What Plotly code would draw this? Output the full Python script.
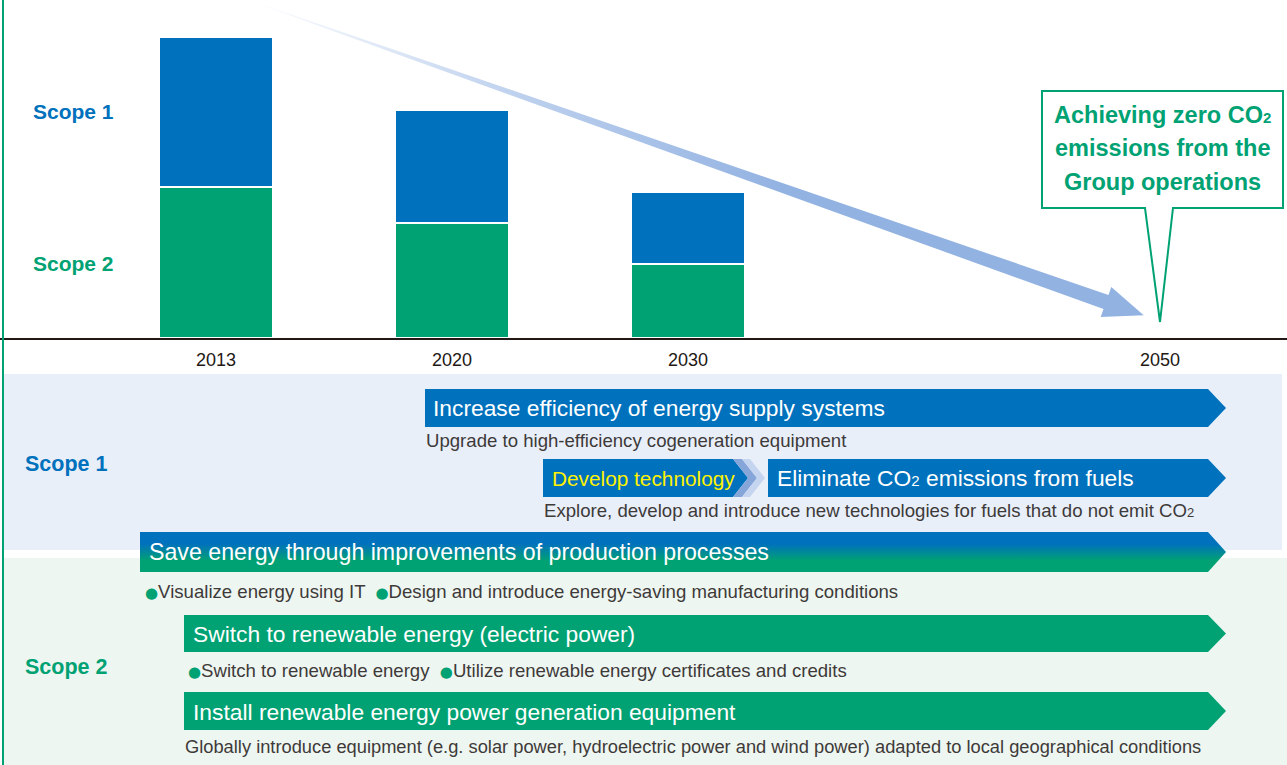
import plotly.graph_objects as go
import math

W, H = 1287, 765

# ---------------- data ----------------
years = ["2013", "2020", "2030", "2050"]
year_pos = [0, 1, 2, 4]
bar_pos = [0, 1, 2]
scope2_vals = [151, 115, 74]
scope1_vals = [150, 113, 72]

callout_lines = ["Achieving zero CO<span style='font-size:15px'>2</span>",
                 "emissions from the", "Group operations"]

scope1_bars = ["Increase efficiency of energy supply systems",
               "Develop technology",
               "Eliminate CO<span style='font-size:15px'>2</span> emissions from fuels"]
scope1_notes = ["Upgrade to high-efficiency cogeneration equipment",
                "Explore, develop and introduce new technologies for fuels that do not emit CO<span style='font-size:13px'>2</span>"]
scope2_bars = ["Save energy through improvements of production processes",
               "Switch to renewable energy (electric power)",
               "Install renewable energy power generation equipment"]
bul = "<span style='color:#00a273;font-family:DejaVu Sans;font-size:15px'>●</span>"
scope2_notes = [bul + "Visualize energy using IT  " + bul + "Design and introduce energy-saving manufacturing conditions",
                bul + "Switch to renewable energy  " + bul + "Utilize renewable energy certificates and credits",
                "Globally introduce equipment (e.g. solar power, hydroelectric power and wind power) adapted to local geographical conditions"]

BLUE = "#0071bc"
GREEN = "#00a273"
TXT = "#3e3a39"
FONT = "Liberation Sans, Arial, sans-serif"


def px(x):
    return x / W


def py(y):
    return 1 - y / H


fig = go.Figure()

# stacked bars
fig.add_bar(x=bar_pos, y=scope2_vals, width=0.479, name="Scope 2",
            marker=dict(color=GREEN, line=dict(color="white", width=2.5)))
fig.add_bar(x=bar_pos, y=scope1_vals, width=0.479, name="Scope 1",
            marker=dict(color=BLUE, line=dict(color="white", width=2.5)))

# big decreasing arrow (pixel axes x2/y2)
sx, sy = 248, 0
ex, ey = 1106, 302
L = math.hypot(ex - sx, ey - sy)
dx, dy = (ex - sx) / L, (ey - sy) / L
nx, ny = -dy, dx
hw = 7.5
hb = 16
tipl = 40
ax_pts = [
    (sx + nx * 0.4, sy + ny * 0.4),
    (ex + nx * hw, ey + ny * hw),
    (ex + nx * hb, ey + ny * hb),
    (ex + dx * tipl, ey + dy * tipl),
    (ex - nx * hb, ey - ny * hb),
    (ex - nx * hw, ey - ny * hw),
    (sx - nx * 0.4, sy - ny * 0.4),
]
ax_pts.append(ax_pts[0])
fig.add_scatter(x=[p[0] for p in ax_pts], y=[p[1] for p in ax_pts], xaxis="x2", yaxis="y2",
                mode="lines", line=dict(width=0), fill="toself", hoverinfo="skip",
                fillgradient=dict(type="horizontal", start=248, stop=1146,
                                  colorscale=[[0, "rgba(146,178,226,0)"], [0.3, "rgba(146,178,226,0.6)"],
                                              [0.6, "rgba(146,178,226,1)"], [1, "rgba(146,178,226,1)"]]))

# gradient pentagon "Save energy"
x0, x1, y0, y1, tip = 140, 1208, 532, 572, 18
gx = [x0, x1, x1 + tip, x1, x0, x0]
gy = [y0, y0, (y0 + y1) / 2, y1, y1, y0]
fig.add_scatter(x=gx, y=gy, xaxis="x2", yaxis="y2", mode="lines", line=dict(width=0),
                fill="toself", hoverinfo="skip",
                fillgradient=dict(type="vertical", start=y0, stop=y1,
                                  colorscale=[[0, BLUE], [0.3, BLUE], [0.72, GREEN], [1, GREEN]]))

shapes = []
# background bands
shapes.append(dict(type="rect", xref="paper", yref="paper", x0=px(4), x1=px(1282), y0=py(550), y1=py(374),
                   fillcolor="#e8eff9", line_width=0, layer="below"))
shapes.append(dict(type="rect", xref="paper", yref="paper", x0=px(4), x1=px(1287), y0=py(765), y1=py(558),
                   fillcolor="#eef6f1", line_width=0, layer="below"))
# left green line
shapes.append(dict(type="line", xref="paper", yref="paper", x0=px(3), x1=px(3), y0=0, y1=1,
                   line=dict(color=GREEN, width=2), layer="above"))


def path(pts):
    return "M " + " L ".join(f"{px(a):.5f},{py(b):.5f}" for a, b in pts) + " Z"


def pent(x0, x1, y0, y1, tip=18):
    return [(x0, y0), (x1, y0), (x1 + tip, (y0 + y1) / 2), (x1, y1), (x0, y1)]


for pts, col in [
    (pent(425, 1208, 389, 427), BLUE),
    (pent(768, 1208, 459, 497), BLUE),
    (pent(543, 733, 459, 497, 15), BLUE),
    ([(733, 459), (742, 459), (757, 478), (742, 497), (733, 497), (748, 478)], "#86a6da"),
    ([(742, 459), (750, 459), (765, 478), (750, 497), (742, 497), (757, 478)], "#c6d5ef"),
    (pent(184, 1208, 615, 652), GREEN),
    (pent(184, 1208, 692, 730), GREEN),
]:
    shapes.append(dict(type="path", xref="paper", yref="paper", path=path(pts),
                       fillcolor=col, line_width=0, layer="below"))

# callout
shapes.append(dict(type="path", xref="paper", yref="paper",
                   path=path([(1042, 91), (1283, 91), (1283, 208), (1173, 208), (1160, 322),
                              (1145, 208), (1042, 208)]),
                   fillcolor="white", line=dict(color=GREEN, width=2), layer="above"))

ann = []


def txt(x, y, s, size, color, bold=False, anchor="left"):
    ann.append(dict(x=px(x), y=py(y), xref="paper", yref="paper", text=(f"<b>{s}</b>" if bold else s),
                    showarrow=False, xanchor=anchor, yanchor="middle",
                    font=dict(family=FONT, size=size, color=color)))


txt(31, 111, "Scope 1", 21, BLUE, True)
txt(31, 263, "Scope 2", 21, GREEN, True)
for i, s in enumerate(callout_lines):
    txt(1162, 115 + i * 33.5, s, 23.5, GREEN, True, "center")

txt(23, 464, "Scope 1", 21.5, BLUE, True)
txt(23, 667, "Scope 2", 21.5, GREEN, True)

PT = 22.8
NT = 18.6
txt(431, 408, scope1_bars[0], PT, "white")
txt(550, 478, scope1_bars[1], 20.8, "#fff100")
txt(775, 478, scope1_bars[2], PT, "white")
txt(424, 441, scope1_notes[0], NT, TXT)
txt(542, 511, scope1_notes[1], NT, TXT)

txt(147, 552, scope2_bars[0], 23.2, "white")
txt(191, 634, scope2_bars[1], PT, "white")
txt(191, 712, scope2_bars[2], PT, "white")
txt(143, 591, scope2_notes[0], NT, TXT)
txt(186, 670, scope2_notes[1], NT, TXT)
txt(183, 746, scope2_notes[2], 18.3, TXT)

fig.update_layout(
    width=W, height=H, margin=dict(l=0, r=0, t=0, b=0),
    paper_bgcolor="white", plot_bgcolor="rgba(0,0,0,0)",
    barmode="stack", showlegend=False, bargap=0,
    shapes=shapes, annotations=ann,
    xaxis=dict(domain=[0, 1], range=[-216 / 236, (W - 216) / 236], tickvals=year_pos, ticktext=years,
               showline=True, linecolor="#231815", linewidth=1.5, showgrid=False, zeroline=False,
               ticks="outside", ticklen=5, tickcolor="rgba(0,0,0,0)",
               tickfont=dict(family=FONT, size=18, color="#231815"), fixedrange=True),
    yaxis=dict(domain=[1 - 338 / H, 1], range=[0, 338], visible=False, fixedrange=True),
    xaxis2=dict(domain=[0, 1], range=[0, W], visible=False, anchor="y2", fixedrange=True),
    yaxis2=dict(domain=[0, 1], range=[H, 0], visible=False, anchor="x2", fixedrange=True),
)

fig.write_html("out.html", config={"displayModeBar": False},
               post_script="document.body.style.margin='0';document.body.style.overflow='hidden';")
